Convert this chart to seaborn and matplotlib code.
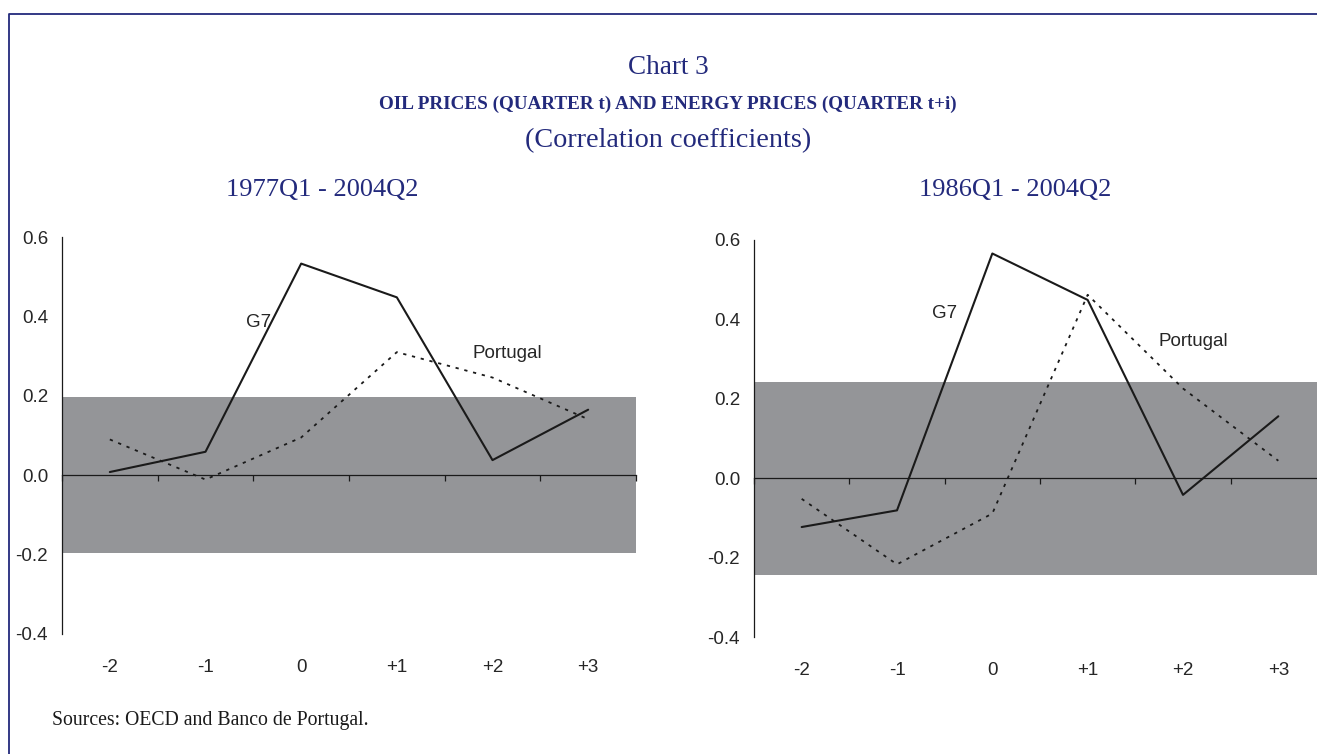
import numpy as np
import pandas as pd
import seaborn as sns
import matplotlib.pyplot as plt
from matplotlib.lines import Line2D

# lags i (quarter t+i)
LAGS = [-2, -1, 0, 1, 2, 3]
LAG_LABELS = ['-2', '-1', '0', '+1', '+2', '+3']

# 1977Q1 - 2004Q2
G7_A = [0.008, 0.059, 0.533, 0.448, 0.038, 0.165]
PT_A = [0.090, -0.011, 0.095, 0.310, 0.246, 0.141]
BAND_A = 0.197

# 1986Q1 - 2004Q2
G7_B = [-0.123, -0.081, 0.566, 0.449, -0.042, 0.156]
PT_B = [-0.052, -0.217, -0.089, 0.462, 0.226, 0.044]
BAND_B = 0.243

PERIODS = ['1977Q1 - 2004Q2', '1986Q1 - 2004Q2']

BLUE = '#232a7c'
GREY = '#949598'
SERIF = ['Liberation Serif', 'DejaVu Serif']


def draw_panel(ax, g7, pt, band, g7_pos, pt_pos):
    '''
    Draws one correlation panel: significance band, G7 and Portugal lines.
    '''
    df = pd.DataFrame({'lag': LAGS, 'G7': g7, 'Portugal': pt})
    ax.axhspan(-band, band, color=GREY, lw=0, zorder=0)
    sns.lineplot(ax=ax, data=df, x='lag', y='G7', color='#1a1a1a',
                 lw=1.5, zorder=3)
    sns.lineplot(ax=ax, data=df, x='lag', y='Portugal', color='#1a1a1a',
                 lw=1.3, zorder=3)
    ax.lines[-1].set_linestyle((0, (1.8, 3.2)))
    ax.set_xlim(-2.5, 3.5)
    ax.set_ylim(-0.4, 0.6)
    ax.set_yticks([-0.4, -0.2, 0.0, 0.2, 0.4, 0.6])
    ax.set_yticklabels(['%.1f' % v for v in ax.get_yticks()])
    ax.set_xticks(LAGS)
    ax.set_xticklabels(LAG_LABELS)
    ax.tick_params(axis='x', length=0, pad=18, labelsize=13.5)
    ax.tick_params(axis='y', length=5, width=0.9, pad=5, labelsize=13.5,
                   direction='out')
    for s in ['top', 'right', 'bottom']:
        ax.spines[s].set_visible(False)
    ax.spines['left'].set_linewidth(0.9)
    ax.spines['left'].set_color('#1a1a1a')
    # zero line with category separators
    sec = ax.secondary_xaxis(0.4)
    sec.set_xticks(np.arange(-2.5, 4, 1.0))
    sec.set_xticklabels([])
    sec.tick_params(length=4.5, width=0.9, direction='out', color='#1a1a1a')
    sec.spines['bottom'].set_linewidth(0.9)
    sec.spines['bottom'].set_color('#1a1a1a')
    ax.text(g7_pos[0], g7_pos[1], 'G7', fontsize=13.5, ha='center',
            va='center', family='Liberation Sans')
    ax.text(pt_pos[0], pt_pos[1], 'Portugal', fontsize=13.5, ha='left',
            va='center', family='Liberation Sans')
    ax.set_xlabel('')
    ax.set_ylabel('')


def main():
    sns.set_style('white')
    plt.rcParams['font.family'] = ['Liberation Sans', 'DejaVu Sans']
    plt.rcParams['axes.unicode_minus'] = False
    fig = plt.figure(figsize=(13.17, 7.54), dpi=100)

    ax1 = fig.add_axes([62 / 1317, 1 - 634 / 754, 574 / 1317, 397 / 754])
    ax2 = fig.add_axes([754 / 1317, 1 - 637 / 754, 572 / 1317, 397 / 754])
    draw_panel(ax1, G7_A, PT_A, BAND_A, (-0.45, 0.384), (1.79, 0.306))
    draw_panel(ax2, G7_B, PT_B, BAND_B, (-0.5, 0.416), (1.74, 0.345))

    fig.text(668 / 1317, 1 - 68 / 754, 'Chart 3', color=BLUE, family=SERIF,
             fontsize=19.5, ha='center', va='center')
    fig.text(668 / 1317, 1 - 104 / 754,
             'OIL PRICES (QUARTER t) AND ENERGY PRICES (QUARTER t+i)',
             color=BLUE, family=SERIF, fontsize=13.8, fontweight='bold',
             ha='center', va='center')
    fig.text(668 / 1317, 1 - 141 / 754, '(Correlation coefficients)',
             color=BLUE, family=SERIF, fontsize=20.3, ha='center',
             va='center')
    fig.text(322 / 1317, 1 - 190 / 754, PERIODS[0], color=BLUE, family=SERIF,
             fontsize=19, ha='center', va='center')
    fig.text(1015 / 1317, 1 - 190 / 754, PERIODS[1], color=BLUE,
             family=SERIF, fontsize=19, ha='center', va='center')
    fig.text(52 / 1317, 1 - 721 / 754, 'Sources: OECD and Banco de Portugal.',
             color='#1a1a1a', family=SERIF, fontsize=14.2, ha='left',
             va='center')

    # page frame (top and left rules)
    fig.add_artist(Line2D([8.5 / 1317, 8.5 / 1317, 1.0],
                          [0.0, 1 - 14 / 754, 1 - 14 / 754],
                          color=BLUE, lw=1.3, transform=fig.transFigure))

    plt.savefig('out.png', dpi=100)


if __name__ == '__main__':
    main()
